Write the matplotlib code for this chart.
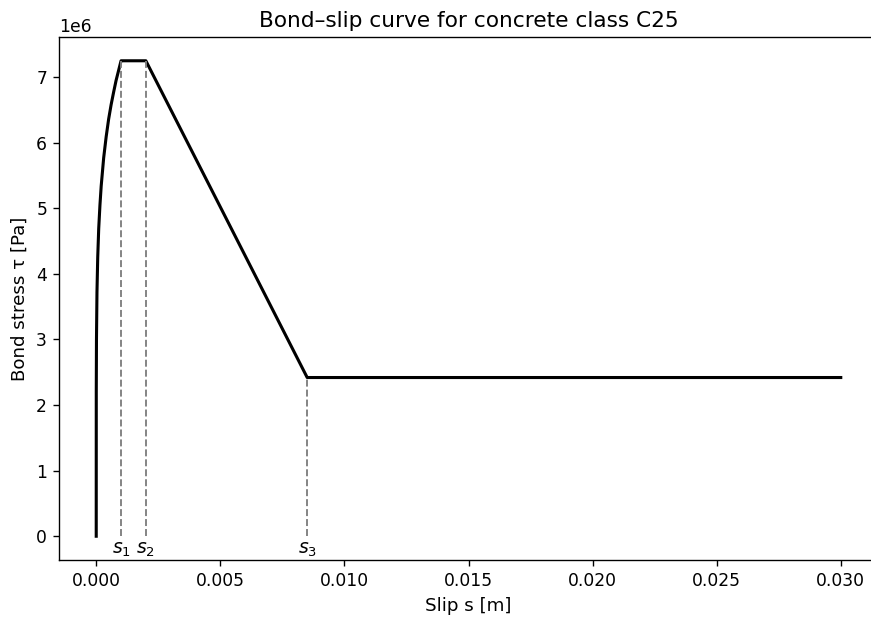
import matplotlib
matplotlib.use('Agg')

import matplotlib.pyplot as plt
import numpy as np

# --- Data ---
slip = [0.0, 0.000002, 0.00001, 0.00003, 0.00006, 0.0001, 0.00015, 0.0002,
        0.0003, 0.0004, 0.0005, 0.0006, 0.0007, 0.0008, 0.0009, 0.001,
        0.002, 0.0085, 0.030]
stress = [0.0, 2.2e6, 3.0e6, 3.72e6, 4.25e6, 4.69e6, 5.05e6, 5.34e6,
          5.77e6, 6.09e6, 6.36e6, 6.58e6, 6.77e6, 6.95e6, 7.10e6, 7.25e6,
          7.25e6, 2.42e6, 2.42e6]

marker_slip = [0.001, 0.002, 0.0085]
marker_stress = [7.25e6, 7.25e6, 2.42e6]
marker_labels = ['$s_1$', '$s_2$', '$s_3$']

# --- Plot ---
dpi = 123
fig = plt.figure(figsize=(871 / dpi, 619 / dpi), dpi=dpi)
# right edge of the axes runs past the image, as in the reference
ax = fig.add_axes([59 / 871, 59 / 619, 819 / 871, 523 / 619])

ax.plot(slip, stress, color='black', linewidth=1.8)

for s, t, lab in zip(marker_slip, marker_stress, marker_labels):
    ax.plot([s, s], [0, t], color='gray', linestyle='--', linewidth=1.1)
    ax.text(s, -0.2e6, lab, ha='center', va='center', fontsize=11)

ax.set_xlabel('Slip s [m]', fontsize=10.7)
ax.set_ylabel('Bond stress τ [Pa]', fontsize=10.7)
ax.set_title('Bond–slip curve for concrete class C25', fontsize=12.7)

fig.savefig('out.png', dpi=dpi)
